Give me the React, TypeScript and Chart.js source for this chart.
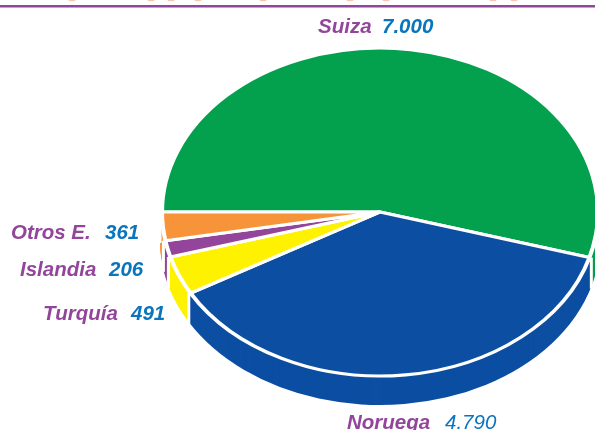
import React, { useEffect, useRef } from "react";
import { Chart, registerables } from "chart.js";

Chart.register(...registerables);

const categories = ["Suiza", "Noruega", "Turquía", "Islandia", "Otros E."];
const values = [7000, 4790, 491, 206, 361];
const valueLabels = ["7.000", "4.790", "491", "206", "361"];
const colors = ["#03A04E", "#0B4EA2", "#FFF200", "#92459B", "#F7943A"];

// layout of the picture
const CX = 380, CY = 212, RX = 218, RY = 164, DEPTH = 29, SIDE_EXTRA = 2;
const labelPos = [
  { x: 318, vx: 382, y: 33, italicOnly: false },
  { x: 347, vx: 445, y: 429, italicOnly: true },
  { x: 43, vx: 131, y: 320, italicOnly: false },
  { x: 20, vx: 109, y: 276, italicOnly: false },
  { x: 11, vx: 105, y: 239, italicOnly: false },
];
// lower edges of the cropped-off heading that show at the top of the picture
const croppedHeadingBits = [72, 151, 171, 198, 263, 350, 386, 493, 514];

const ellipsePie = {
  id: "ellipsePie",
  beforeDatasetsDraw(chart: any) {
    const ctx = chart.ctx;
    const meta = chart.getDatasetMeta(0);
    const arcs = meta.data as any[];
    const R = arcs[0].outerRadius;
    const cx = arcs[0].x, cy = arcs[0].y;
    const sx = RX / R, sy = RY / R;
    const sideRx = RX + SIDE_EXTRA;
    ctx.save();
    // extruded side: only the front half of the rim can show
    for (let d = DEPTH; d >= 1; d--) {
      arcs.forEach((a: any, i: number) => {
        const start = Math.max(a.startAngle, 0);
        if (a.endAngle <= start) return;
        ctx.save();
        ctx.translate(CX, CY + d);
        ctx.scale(sideRx / R, sy);
        ctx.translate(-cx, -cy);
        ctx.beginPath();
        ctx.moveTo(cx, cy);
        ctx.arc(cx, cy, R, start, a.endAngle);
        ctx.closePath();
        ctx.fillStyle = colors[i];
        ctx.fill();
        ctx.restore();
      });
    }
    // white seams between side faces
    ctx.strokeStyle = "#fff";
    ctx.lineWidth = 3;
    arcs.forEach((a: any) => {
      const px = CX + Math.cos(a.endAngle) * sideRx;
      const py = CY + Math.sin(a.endAngle) * RY;
      if (Math.sin(a.endAngle) > 0) {
        ctx.beginPath();
        ctx.moveTo(px, py);
        ctx.lineTo(px, py + DEPTH + 2);
        ctx.stroke();
      }
    });
    ctx.restore();
    ctx.save();
    ctx.translate(CX, CY);
    ctx.scale(sx, sy);
    ctx.translate(-cx, -cy);
  },
  afterDatasetsDraw(chart: any) {
    const ctx = chart.ctx;
    ctx.restore();
    ctx.save();
    ctx.fillStyle = "#92459B";
    ctx.fillRect(0, 5, chart.width, 2.5);
    ctx.fillStyle = "#FBC4AC";
    croppedHeadingBits.forEach((x) => {
      ctx.beginPath();
      ctx.ellipse(x, 0, 3.5, 1.2, 0, 0, Math.PI * 2);
      ctx.fill();
    });
    ctx.textBaseline = "alphabetic";
    categories.forEach((c, i) => {
      const p = labelPos[i];
      ctx.font = 'italic bold 20.5px "Liberation Sans"';
      ctx.fillStyle = "#92459B";
      ctx.fillText(c, p.x, p.y);
      ctx.font = `italic ${p.italicOnly ? "" : "bold "}20.5px "Liberation Sans"`;
      ctx.fillStyle = "#0A75BC";
      ctx.fillText(valueLabels[i], p.vx, p.y);
    });
    ctx.restore();
  },
};

export default function App() {
  const ref = useRef<HTMLCanvasElement>(null);
  useEffect(() => {
    const chart = new Chart(ref.current!, {
      type: "pie",
      data: {
        labels: categories,
        datasets: [
          {
            data: values,
            backgroundColor: colors,
            borderColor: "#ffffff",
            borderWidth: 4,
            clip: false,
          } as any,
        ],
      },
      options: {
        responsive: false,
        animation: false,
        rotation: -90,
        layout: { padding: { left: 165 } },
        plugins: { legend: { display: false }, tooltip: { enabled: false } },
      },
      plugins: [ellipsePie],
    });
    return () => chart.destroy();
  }, []);
  return (
    <div style={{ position: "fixed", left: 0, top: 0, width: 595, height: 430, background: "#fff" }}>
      <canvas ref={ref} width={595} height={430} style={{ display: "block" }} />
    </div>
  );
}
